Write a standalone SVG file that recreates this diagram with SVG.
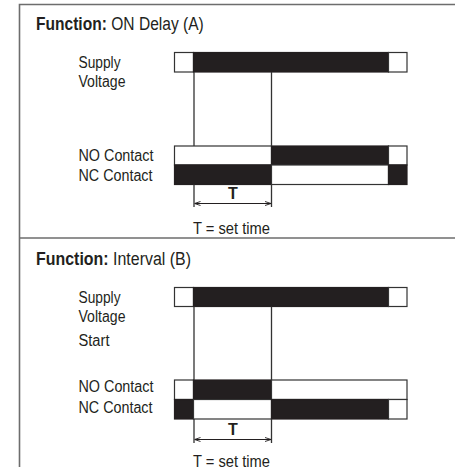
<svg xmlns="http://www.w3.org/2000/svg" width="455" height="467" viewBox="0 0 455 467">
<style>
.t{font-family:"Liberation Sans",Arial,sans-serif;font-size:16px;fill:#231f20}
.h{font-family:"Liberation Sans",Arial,sans-serif;font-size:19px;fill:#231f20}
.b{font-weight:bold}
.frame{stroke:#6d6d6d;stroke-width:1.6;fill:none}
.w{fill:#fff;stroke:#333;stroke-width:1.2}
.k{fill:#231f20;stroke:#231f20;stroke-width:1.2}
.v{stroke:#333;stroke-width:1.3;fill:none}
.dim{stroke:#231f20;stroke-width:1;fill:none}
</style>
<defs>
<marker id="ar" markerWidth="6" markerHeight="6" refX="6" refY="3" orient="auto-start-reverse" markerUnits="userSpaceOnUse">
<path d="M0,1 L6,3 L0,5" fill="none" stroke="#231f20" stroke-width="0.9"/>
</marker>
</defs>
<rect width="455" height="467" fill="#fff"/>
<g id="frame">
<path class="frame" d="M19.5,467 V4.5 H455"/>
<path class="frame" d="M19.5,238 H455"/>
</g>
<g id="sectionA">
<text class="h" transform="translate(36,30) scale(0.82,1)"><tspan class="b">Function:</tspan> ON Delay (A)</text>
<text class="t" x="78.5" y="68" textLength="42" lengthAdjust="spacingAndGlyphs">Supply</text>
<text class="t" x="78.5" y="86.5" textLength="47" lengthAdjust="spacingAndGlyphs">Voltage</text>
<text class="t" x="78.5" y="160.5" textLength="75" lengthAdjust="spacingAndGlyphs">NO Contact</text>
<text class="t" x="78.5" y="181" textLength="74" lengthAdjust="spacingAndGlyphs">NC Contact</text>
</g>
<g id="supplyA">
<rect class="w" x="174.5" y="52.5" width="19" height="19.5"/>
<rect class="k" x="193.5" y="52.5" width="195" height="19.5"/>
<rect class="w" x="388.5" y="52.5" width="18.5" height="19.5"/>
</g>
<g id="noA">
<rect class="w" x="174.5" y="146" width="97" height="19"/>
<rect class="k" x="271.5" y="146" width="117" height="19"/>
<rect class="w" x="388.5" y="146" width="18.5" height="19"/>
</g>
<g id="ncA">
<rect class="k" x="174.5" y="165" width="97" height="19.5"/>
<rect class="w" x="271.5" y="165" width="117" height="19.5"/>
<rect class="k" x="388.5" y="165" width="18.5" height="19.5"/>
</g>
<g id="sectionB">
<text class="h" transform="translate(36,265) scale(0.84,1)"><tspan class="b">Function:</tspan> Interval (B)</text>
<text class="t" x="78.5" y="302.5" textLength="42" lengthAdjust="spacingAndGlyphs">Supply</text>
<text class="t" x="78.5" y="321.5" textLength="47" lengthAdjust="spacingAndGlyphs">Voltage</text>
<text class="t" x="78.5" y="346" textLength="31" lengthAdjust="spacingAndGlyphs">Start</text>
<text class="t" x="78.5" y="392" textLength="75" lengthAdjust="spacingAndGlyphs">NO Contact</text>
<text class="t" x="78.5" y="413" textLength="74" lengthAdjust="spacingAndGlyphs">NC Contact</text>
</g>
<g id="supplyB">
<rect class="w" x="174.5" y="287.5" width="19" height="19"/>
<rect class="k" x="193.5" y="287.5" width="195" height="19"/>
<rect class="w" x="388.5" y="287.5" width="18.5" height="19"/>
</g>
<g id="noB">
<rect class="w" x="174.5" y="380" width="19" height="19.5"/>
<rect class="k" x="193.5" y="380" width="78" height="19.5"/>
<rect class="w" x="271.5" y="380" width="135.5" height="19.5"/>
</g>
<g id="ncB">
<rect class="k" x="174.5" y="399.5" width="19" height="19.5"/>
<rect class="w" x="193.5" y="399.5" width="78" height="19.5"/>
<rect class="k" x="271.5" y="399.5" width="117" height="19.5"/>
<rect class="w" x="388.5" y="399.5" width="18.5" height="19.5"/>
</g>
<g id="connectors">
<path class="v" d="M194,72 V146 M194,184.5 V207 M271.5,72 V146 M271.5,184.5 V207"/>
<line class="dim" x1="194.5" y1="203.5" x2="271" y2="203.5" marker-start="url(#ar)" marker-end="url(#ar)"/>
<path class="v" d="M194,306.5 V380 M194,419 V443 M271.5,306.5 V380 M271.5,419 V443"/>
<line class="dim" x1="194.5" y1="439.5" x2="271" y2="439.5" marker-start="url(#ar)" marker-end="url(#ar)"/>
</g>
<g id="dimlabels">
<text class="t b" x="233" y="198.5" text-anchor="middle">T</text>
<text class="t" x="231.5" y="233.5" text-anchor="middle" textLength="77" lengthAdjust="spacingAndGlyphs">T = set time</text>
<text class="t b" x="233" y="435" text-anchor="middle">T</text>
<text class="t" x="231.5" y="466.5" text-anchor="middle" textLength="77" lengthAdjust="spacingAndGlyphs">T = set time</text>
</g>
</svg>
